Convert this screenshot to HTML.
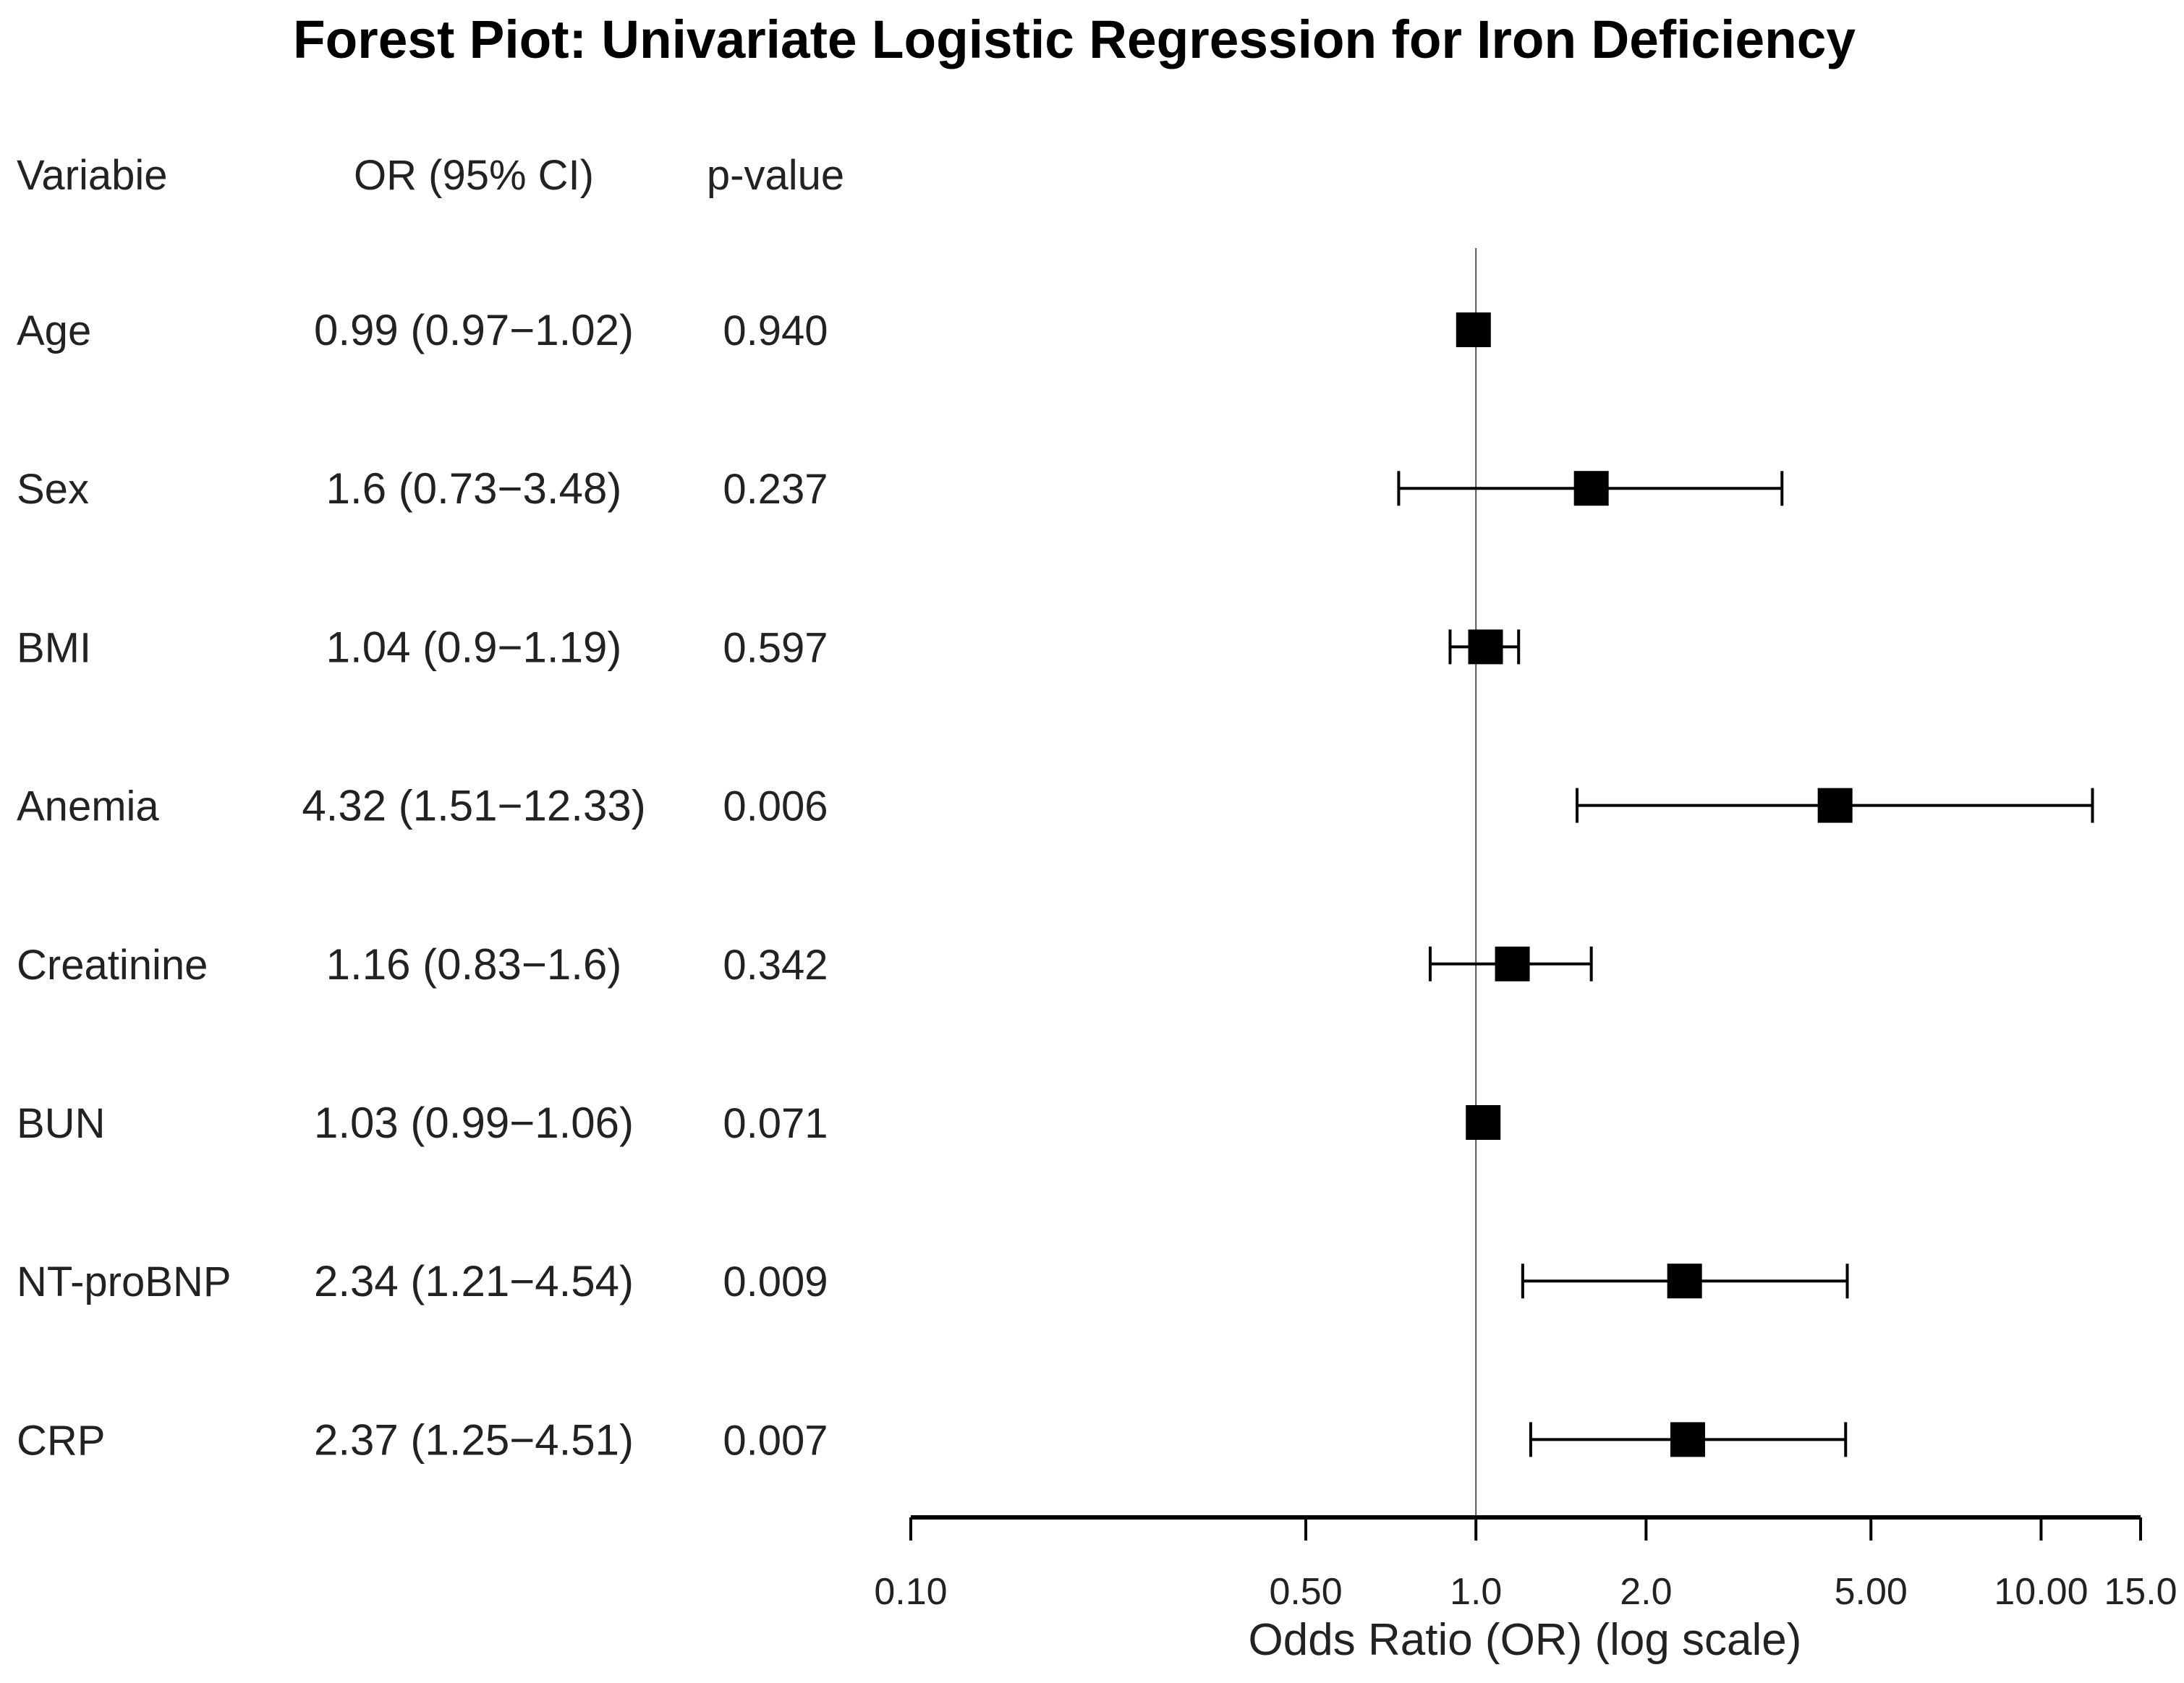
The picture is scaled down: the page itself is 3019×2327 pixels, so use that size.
<!DOCTYPE html>
<html><head><meta charset="utf-8">
<style>
html,body{margin:0;padding:0;background:#fff;}
svg{display:block;}
text{font-family:"Liberation Sans",Arial,sans-serif;fill:#222;}
</style></head>
<body>
<svg id="chart" width="3019" height="2327" viewBox="0 0 3019 2327" xmlns="http://www.w3.org/2000/svg">
<rect width="3019" height="2327" fill="#fff"/>
<text x="1485" y="80" text-anchor="middle" font-size="74" font-weight="bold" style="fill:#000" textLength="2160" lengthAdjust="spacingAndGlyphs">Forest Piot: Univariate Logistic Regression for Iron Deficiency</text>
<text x="23" y="262" font-size="58">Variabie</text>
<text x="655" y="262" font-size="58" text-anchor="middle">OR (95% CI)</text>
<text x="1072" y="262" font-size="58" text-anchor="middle">p-value</text>
<g id="rows"></g>
<g id="axis"></g>
<text x="2108" y="2288" font-size="62" text-anchor="middle">Odds Ratio (OR) (log scale)</text>
</svg>
<script>
const variables = ["Age","Sex","BMI","Anemia","Creatinine","BUN","NT-proBNP","CRP"];
const orValues = [0.99,1.6,1.04,4.32,1.16,1.03,2.34,2.37];
const ciLow = [0.97,0.73,0.9,1.51,0.83,0.99,1.21,1.25];
const ciHigh = [1.02,3.48,1.19,12.33,1.6,1.06,4.54,4.51];
const pValues = ["0.940","0.237","0.597","0.006","0.342","0.071","0.009","0.007"];
const ciLabels = ["0.99 (0.97\u22121.02)","1.6 (0.73\u22123.48)","1.04 (0.9\u22121.19)","4.32 (1.51\u221212.33)","1.16 (0.83\u22121.6)","1.03 (0.99\u22121.06)","2.34 (1.21\u22124.54)","2.37 (1.25\u22124.51)"];
const tickValues = [0.1,0.5,1,2,5,10,15];
const tickLabels = ["0.10","0.50","1.0","2.0","5.00","10.00","15.0"];

const NS="http://www.w3.org/2000/svg";
const X0=1259, X1=2959, LMIN=Math.log10(0.1), LMAX=Math.log10(15);
function xScale(v){return X0+(Math.log10(v)-LMIN)/(LMAX-LMIN)*(X1-X0);}
function yScale(i){return 456+i*219.2;}
function mk(tag,attrs,parent){const e=document.createElementNS(NS,tag);for(const k in attrs)e.setAttribute(k,attrs[k]);parent.appendChild(e);return e;}
const rows=document.getElementById('rows');
const axis=document.getElementById('axis');
const AXY=2098;

const ref=mk('line',{x1:xScale(1),x2:xScale(1),y1:343,y2:AXY,stroke:'#555','stroke-width':2},rows);



variables.forEach((v,i)=>{
  const y=yScale(i);
  const g=mk('g',{},rows);
  
  
  const t1=mk('text',{x:23,y:y+21,'font-size':58},g); t1.textContent=v;
  
  
  const t2=mk('text',{x:655,y:y+21,'font-size':60,'text-anchor':'middle'},g); t2.textContent=ciLabels[i];
  
  
  const t3=mk('text',{x:1072,y:y+21,'font-size':58,'text-anchor':'middle'},g); t3.textContent=pValues[i];
  
  
  const xl=xScale(ciLow[i]), xh=xScale(ciHigh[i]);
  const ci=mk('line',{x1:xl,x2:xh,y1:y,y2:y,stroke:'#000','stroke-width':4},g);
  
  
  [xl,xh].forEach(xx=>{
    const c=mk('line',{x1:xx,x2:xx,y1:y-24,y2:y+24,stroke:'#000','stroke-width':4},g);
    
    
  });
  const sq=mk('rect',{x:xScale(orValues[i])-24,y:y-24,width:48,height:48,fill:'#000'},g);
  
  
});

const al=mk('line',{x1:X0,x2:X1,y1:AXY,y2:AXY,stroke:'#000','stroke-width':6},axis);


tickValues.forEach((v,i)=>{
  const x=xScale(v);
  const tk=mk('line',{x1:x,x2:x,y1:AXY,y2:AXY+32,stroke:'#000','stroke-width':4},axis);
  
  
  const tl=mk('text',{x:x,y:2218,'font-size':52,'text-anchor':'middle'},axis);
  tl.textContent=tickLabels[i];
  
  
});
</script>
</body></html>
